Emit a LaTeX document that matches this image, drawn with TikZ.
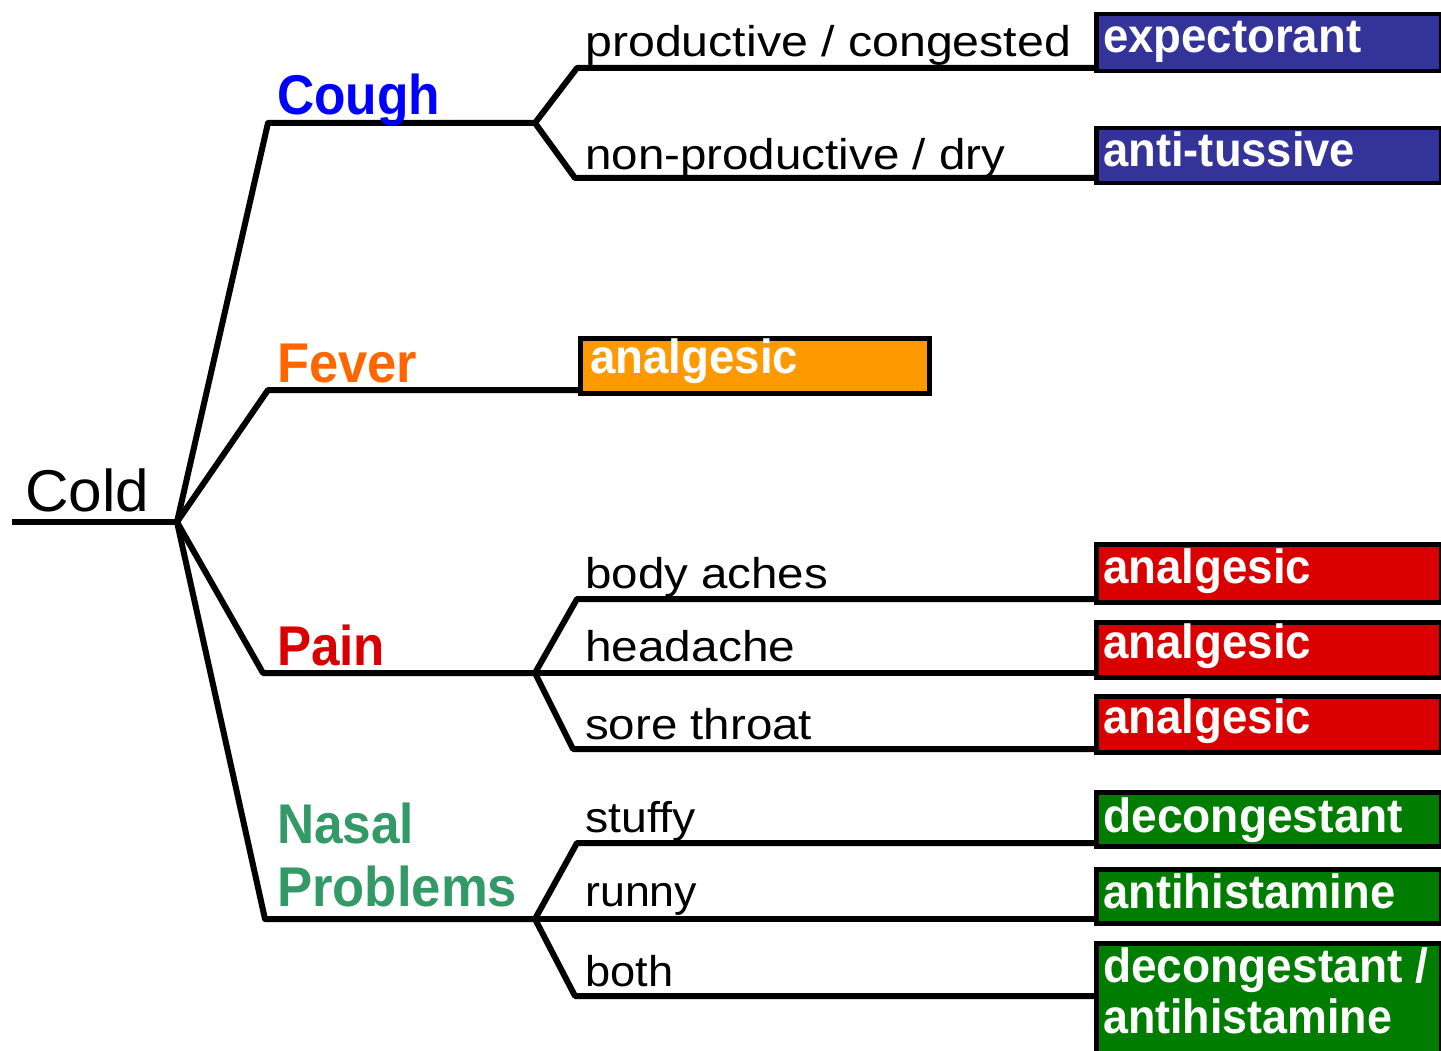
\documentclass[tikz,border=0pt]{standalone}
\usepackage{fontspec}
\setmainfont{Liberation Sans}
\usepackage{graphicx}
\newcommand{\wfit}[2]{\resizebox{#1pt}{\height}{#2}}
\definecolor{coughc}{HTML}{0000FF}
\definecolor{feverc}{HTML}{FF6600}
\definecolor{painc}{HTML}{D80000}
\definecolor{nasalc}{HTML}{339966}
\definecolor{boxblue}{HTML}{333399}
\definecolor{boxorange}{HTML}{FF9900}
\definecolor{boxred}{HTML}{DA0000}
\definecolor{boxgreen}{HTML}{007C00}
\tikzset{
  wire/.style={line width=6pt, black, line join=round},
  leafbox/.style={draw=black, line width=4.5pt, inner sep=0pt, anchor=north west},
  rootlbl/.style={anchor=base west, inner sep=0pt, font=\fontsize{59}{62}\selectfont},
  catlbl/.style={anchor=base west, inner sep=0pt, font=\fontsize{56}{60}\selectfont\bfseries},
  sublbl/.style={anchor=base west, inner sep=0pt, font=\fontsize{43}{48}\selectfont},
  boxlbl/.style={anchor=base west, inner sep=0pt, text=white, font=\fontsize{48}{52}\selectfont\bfseries}
}
\begin{document}
\begin{tikzpicture}[x=1pt,y=-1pt]
\useasboundingbox (0,0) rectangle (1441,1051);

% junctions
\coordinate (rootL) at (12,522);
\coordinate (root) at (177,522);
\coordinate (kC) at (268,123);
\coordinate (sC) at (535,123);
\coordinate (tC1) at (577,68);
\coordinate (tC2) at (575,178);
\coordinate (kF) at (268,390);
\coordinate (kP) at (263,673);
\coordinate (sP) at (535,673);
\coordinate (tP1) at (577,599);
\coordinate (tP3) at (573,749);
\coordinate (kN) at (265,919);
\coordinate (sN) at (535,919);
\coordinate (tN1) at (577,843);
\coordinate (tN3) at (575,996);

% leaf boxes
\node[leafbox, fill=boxblue, minimum width=345pt, minimum height=57pt] (bC1) at (1094,12) {};
\node[leafbox, fill=boxblue, minimum width=345pt, minimum height=55pt] (bC2) at (1094,126) {};
\node[leafbox, fill=boxorange, minimum width=349pt, minimum height=55pt] (bF) at (578,336) {};
\node[leafbox, fill=boxred, minimum width=345pt, minimum height=58pt] (bP1) at (1094,542) {};
\node[leafbox, fill=boxred, minimum width=345pt, minimum height=55pt] (bP2) at (1094,620) {};
\node[leafbox, fill=boxred, minimum width=345pt, minimum height=56pt] (bP3) at (1094,694) {};
\node[leafbox, fill=boxgreen, minimum width=345pt, minimum height=54pt] (bN1) at (1094,790) {};
\node[leafbox, fill=boxgreen, minimum width=345pt, minimum height=54pt] (bN2) at (1094,867) {};
\node[leafbox, fill=boxgreen, minimum width=345pt, minimum height=120pt] (bN3) at (1094,941) {};

% connectors
\draw[wire] (rootL) -- (root);
\draw[wire] (root) -- (kC) -- (sC);
\draw[wire] (sC) -- (tC1) -- (tC1 -| bC1.west);
\draw[wire] (sC) -- (tC2) -- (tC2 -| bC2.west);
\draw[wire] (root) -- (kF) -- (kF -| bF.west);
\draw[wire] (root) -- (kP) -- (sP);
\draw[wire] (sP) -- (tP1) -- (tP1 -| bP1.west);
\draw[wire] (sP) -- (sP -| bP2.west);
\draw[wire] (sP) -- (tP3) -- (tP3 -| bP3.west);
\draw[wire] (root) -- (kN) -- (sN);
\draw[wire] (sN) -- (tN1) -- (tN1 -| bN1.west);
\draw[wire] (sN) -- (sN -| bN2.west);
\draw[wire] (sN) -- (tN3) -- (tN3 -| bN3.west);

% root and category labels
\node[rootlbl] (lCold) at (25,511) {\wfit{124}{Cold}};
\node[catlbl, text=coughc] (lCough) at (277,115) {\wfit{163}{Cough}};
\node[catlbl, text=feverc] (lFever) at (277,382) {\wfit{140}{Fever}};
\node[catlbl, text=painc] (lPain) at (277,665) {\wfit{108}{Pain}};
\node[catlbl, text=nasalc] (lNasal) at (277,843) {\wfit{137}{Nasal}};
\node[catlbl, text=nasalc] (lProb) at (277,906) {\wfit{240}{Problems}};

% symptom labels
\node[sublbl] (sym1) at (585,57) {\wfit{486}{productive / congested}};
\node[sublbl] (sym2) at (585,170) {\wfit{420}{non-productive / dry}};
\node[sublbl] (sym3) at (585,588) {\wfit{243}{body aches}};
\node[sublbl] (sym4) at (585,661) {\wfit{210}{headache}};
\node[sublbl] (sym5) at (585,739) {\wfit{227}{sore throat}};
\node[sublbl] (sym6) at (585,832) {\wfit{110}{stuffy}};
\node[sublbl] (sym7) at (585,906) {\wfit{112}{runny}};
\node[sublbl] (sym8) at (585,986) {\wfit{88}{both}};

% remedy labels
\node[boxlbl] (r1) at (1103,53) {\wfit{258}{expectorant}};
\node[boxlbl] (r2) at (1103,167) {\wfit{252}{anti-tussive}};
\node[boxlbl] (r3) at (590,373) {\wfit{208}{analgesic}};
\node[boxlbl] (r4) at (1103,583) {\wfit{208}{analgesic}};
\node[boxlbl] (r5) at (1103,658) {\wfit{208}{analgesic}};
\node[boxlbl] (r6) at (1103,733) {\wfit{208}{analgesic}};
\node[boxlbl] (r7) at (1103,832) {\wfit{300}{decongestant}};
\node[boxlbl] (r8) at (1103,908) {\wfit{292}{antihistamine}};
\node[boxlbl] (r9) at (1103,982) {\wfit{325}{decongestant /}};
\node[boxlbl] (r10) at (1103,1033) {\wfit{289}{antihistamine}};
\end{tikzpicture}
\end{document}
